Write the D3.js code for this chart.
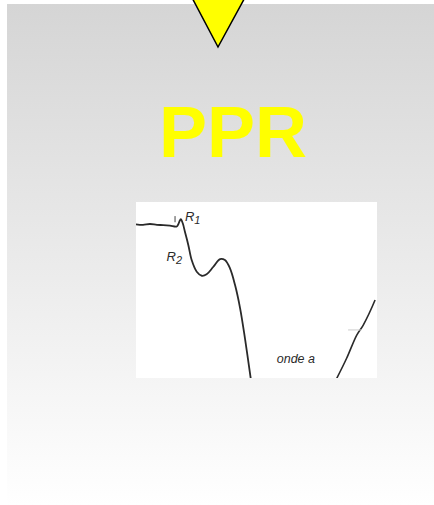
<!DOCTYPE html>
<html><head><meta charset="utf-8">
<script src="https://cdn.jsdelivr.net/npm/d3@7"></script>
<style>html,body{margin:0;padding:0;background:#fff;overflow:hidden}</style>
</head><body>
<script>
// Trace data (time units 0-100, amplitude units 0-100)
const leftTime = [0,2.9,5.8,8.7,11.3,14.1,16.9,17.6,18.0,18.6,19.4,20.3,21.7,23.1,25.2,27.3,29.3,32.1,34.9,36.9,39.0,41.1,43.2,45.2,47.6];
const leftAmp  = [87.3,87.0,87.5,87.0,86.9,86.6,86.1,87.5,88.9,90.2,87.9,83.1,75.6,67.0,60.4,58.1,58.9,63.2,67.6,67.0,62.3,52.8,39.6,22.6,-0.2];
const rightTime = [83.3,87.4,91.6,94.3,99.2];
const rightAmp  = [-0.2,11.2,24.4,30.1,44.3];
const labels = ["R1","R2","onde a"];
const labelTime = [20.3,12.7,58.4];
const labelAmp  = [89.2,66.6,8.4];
const title = "PPR";

const W = 434, H = 505;
const svg = d3.select("body").append("svg").attr("width", W).attr("height", H);
const defs = svg.append("defs");
const g = defs.append("linearGradient").attr("id","bg").attr("x1",0).attr("y1",0).attr("x2",0).attr("y2",1);
g.append("stop").attr("offset","0%").attr("stop-color","#d5d5d5");
g.append("stop").attr("offset","100%").attr("stop-color","#ffffff");
svg.append("rect").attr("x",7).attr("y",4).attr("width",W-7).attr("height",H-4).attr("fill","url(#bg)");

// triangle
svg.append("path").attr("d","M189,-8 L248,-8 L218,47 Z").attr("fill","#ffff00").attr("stroke","#000").attr("stroke-width",1.5).attr("stroke-linejoin","miter");

svg.append("text").attr("x",233).attr("y",157).attr("text-anchor","middle")
  .attr("font-family","'Liberation Sans', Arial, sans-serif").attr("font-weight","bold")
  .attr("font-size",72).attr("fill","#ffff00").text(title);

// image box
const bx = 136, by = 202, bw = 241, bh = 176;
svg.append("rect").attr("x",bx).attr("y",by).attr("width",bw).attr("height",bh).attr("fill","#fff");
const x = d3.scaleLinear().domain([0,100]).range([bx, bx+bw]);
const y = d3.scaleLinear().domain([0,100]).range([by+bh, by]);
const clip = defs.append("clipPath").attr("id","cl");
clip.append("rect").attr("x",bx).attr("y",by).attr("width",bw).attr("height",bh);
const gp = svg.append("g").attr("clip-path","url(#cl)");
const line = d3.line().x(d=>x(d[0])).y(d=>y(d[1])).curve(d3.curveCatmullRom.alpha(0.5));
gp.append("path").attr("d", line(leftTime.map((t,i)=>[t,leftAmp[i]])))
  .attr("fill","none").attr("stroke","#2a2a2a").attr("stroke-width",1.8);
gp.append("path").attr("d", line(rightTime.map((t,i)=>[t,rightAmp[i]])))
  .attr("fill","none").attr("stroke","#2a2a2a").attr("stroke-width",1.6);
// small stimulus tick
gp.append("line").attr("x1",x(16.2)).attr("x2",x(16.2)).attr("y1",y(92)).attr("y2",y(88.5)).attr("stroke","#444").attr("stroke-width",1);
gp.append("line").attr("x1",x(88)).attr("x2",x(93.5)).attr("y1",y(27.3)).attr("y2",y(27.3)).attr("stroke","#ccc").attr("stroke-width",1);

labels.forEach((l,i)=>{
  const t = gp.append("text").attr("x",x(labelTime[i])).attr("y",y(labelAmp[i]))
    .attr("font-family","'Liberation Sans', Arial, sans-serif").attr("font-style","italic")
    .attr("font-size",13).attr("fill","#2a2a2a");
  if (l.length===2) { t.append("tspan").text(l[0]); t.append("tspan").attr("font-size",11).attr("dy",3).text(l[1]); }
  else t.attr("font-size",12.5).text(l);
});
</script>
</body></html>
